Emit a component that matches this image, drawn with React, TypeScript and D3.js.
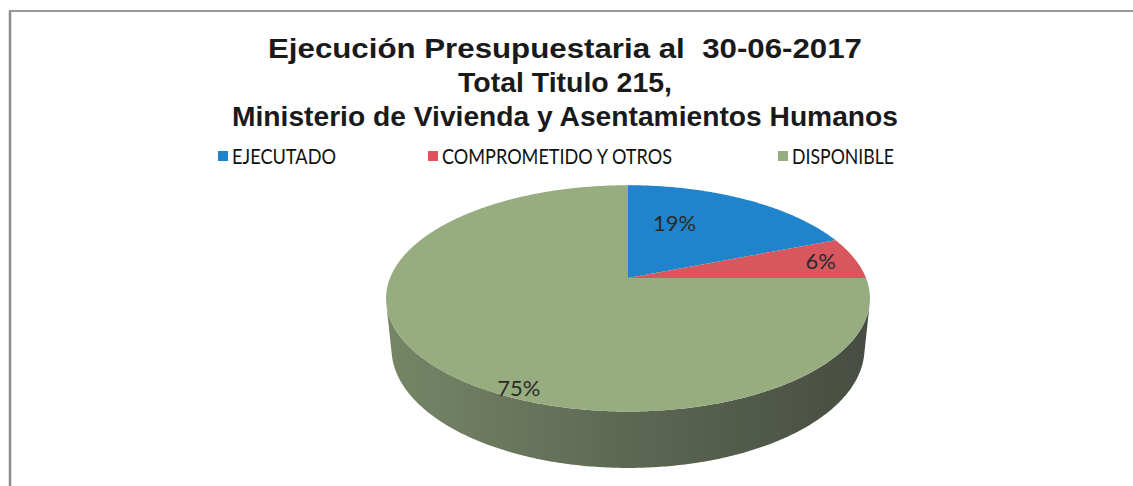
import React from "react";
import * as d3 from "d3";

const titleLines = [
  "Ejecución Presupuestaria al  30-06-2017",
  "Total Titulo 215,",
  "Ministerio de Vivienda y Asentamientos Humanos",
];
const categories = ["EJECUTADO", "COMPROMETIDO Y OTROS", "DISPONIBLE"];
const values = [19, 6, 75];
const labels = ["19%", "6%", "75%"];
const colors = ["#1f84cc", "#d8575f", "#97ad80"];

// layout (not data)
const W = 1133;
const H = 486;
const CX = 628;
const CY = 278;
const F = 238; // projected radius on the horizontal axis
const S = 0.46; // sin(elevation)
const C = Math.sqrt(1 - S * S);
const K = 0.18 / C; // R / camera distance
const HD = 0.239; // depth / R
const LABEL_R = [0.6, 0.85, 0.93];
const legendX = [218, 428, 778];
const legendLen = [104, 230, 102];
const titleLen = [594, 214, 666];

function proj(theta: number, r: number, depth: number): [number, number] {
  const den = 1 + K * depth * S + K * C * r * Math.cos(theta);
  const x = (F * r * Math.sin(theta)) / den;
  const y = (F * (depth * C - S * r * Math.cos(theta))) / den;
  return [CX + x, CY + y];
}

function arcPts(a0: number, a1: number, r: number, depth: number) {
  const n = Math.max(2, Math.ceil(Math.abs(a1 - a0) / 0.01));
  const pts: [number, number][] = [];
  for (let i = 0; i <= n; i++) pts.push(proj(a0 + ((a1 - a0) * i) / n, r, depth));
  return pts;
}

const screenAngle = (t: number) => Math.atan2(Math.sin(t), S * Math.cos(t));

export default function App() {
  const arcs = d3.pie<number>().sort(null).value((d) => d)(values);
  const line = d3.line<[number, number]>().curve(d3.curveLinear);

  const visA = Math.acos(-K / C);
  const visB = 2 * Math.PI - visA;

  return (
    <svg
      width={W}
      height={H}
      style={{ position: "absolute", left: 0, top: 0, background: "#fff" }}
    >
      <defs>
        {arcs.map((a, i) => {
          const mix = d3.interpolateRgb(colors[i], "#3a3d38");
          return (
            <linearGradient
              key={i}
              id={`side${i}`}
              gradientUnits="userSpaceOnUse"
              x1={CX - F}
              x2={CX + F}
              y1={0}
              y2={0}
            >
              <stop offset="0" stopColor={mix(0.36)} />
              <stop offset="0.5" stopColor={mix(0.62)} />
              <stop offset="1" stopColor={mix(0.86)} />
            </linearGradient>
          );
        })}
      </defs>
      <rect x={0} y={0} width={W} height={H} fill="#fff" />
      {/* frame */}
      <line x1={9} y1={11} x2={W} y2={11} stroke="#9a9a9a" strokeWidth={2} />
      <line x1={10} y1={11} x2={10} y2={H} stroke="#8c8c8c" strokeWidth={2.5} />

      {/* title */}
      {titleLines.map((t, i) => (
        <text
          key={i}
          x={565}
          y={58 + i * 34}
          textAnchor="middle"
          fontFamily="'Liberation Sans', Arial, sans-serif"
          fontWeight="bold"
          fontSize={28}
          fill="#1a1a1a"
          textLength={titleLen[i]}
          lengthAdjust="spacingAndGlyphs"
          style={{ whiteSpace: "pre" }}
        >
          {t}
        </text>
      ))}

      {/* legend */}
      {categories.map((c, i) => (
        <g key={c}>
          <rect x={legendX[i]} y={151} width={10} height={10} fill={colors[i]} />
          <text
            x={legendX[i] + 14}
            y={164}
            fontFamily="Lato, 'Open Sans', sans-serif"
            fontSize={21}
            fill="#111"
            textLength={legendLen[i]}
            lengthAdjust="spacingAndGlyphs"
          >
            {c}
          </text>
        </g>
      ))}

      {/* side walls */}
      {arcs.map((a, i) => {
        const s0 = Math.max(a.startAngle, visA);
        const s1 = Math.min(a.endAngle, visB);
        if (s1 <= s0) return null;
        const top = arcPts(s0, s1, 1, 0);
        const bot = arcPts(s0, s1, 1, HD).reverse();
        return (
          <path key={"w" + i} d={line([...top, ...bot]) + "Z"} fill={`url(#side${i})`} />
        );
      })}

      {/* top faces */}
      {arcs.map((a, i) => {
        const pts = [proj(0, 0, 0), ...arcPts(a.startAngle, a.endAngle, 1, 0)];
        return <path key={"t" + i} d={line(pts) + "Z"} fill={colors[i]} />;
      })}

      {/* labels */}
      {arcs.map((a, i) => {
        let p0 = screenAngle(a.startAngle);
        let p1 = screenAngle(a.endAngle);
        if (p0 < 0) p0 += 2 * Math.PI;
        if (p1 <= 0) p1 += 2 * Math.PI;
        const pm = (p0 + p1) / 2;
        const tm = Math.atan2(Math.sin(pm) * S, Math.cos(pm));
        const [x, y] = proj(tm, LABEL_R[i], 0);
        return (
          <text
            key={"l" + i}
            x={x}
            y={y}
            textAnchor="middle"
            dominantBaseline="central"
            fontFamily="Lato, 'Open Sans', sans-serif"
            fontSize={22}
            fill="#2a2a2a"
          >
            {labels[i]}
          </text>
        );
      })}
    </svg>
  );
}
